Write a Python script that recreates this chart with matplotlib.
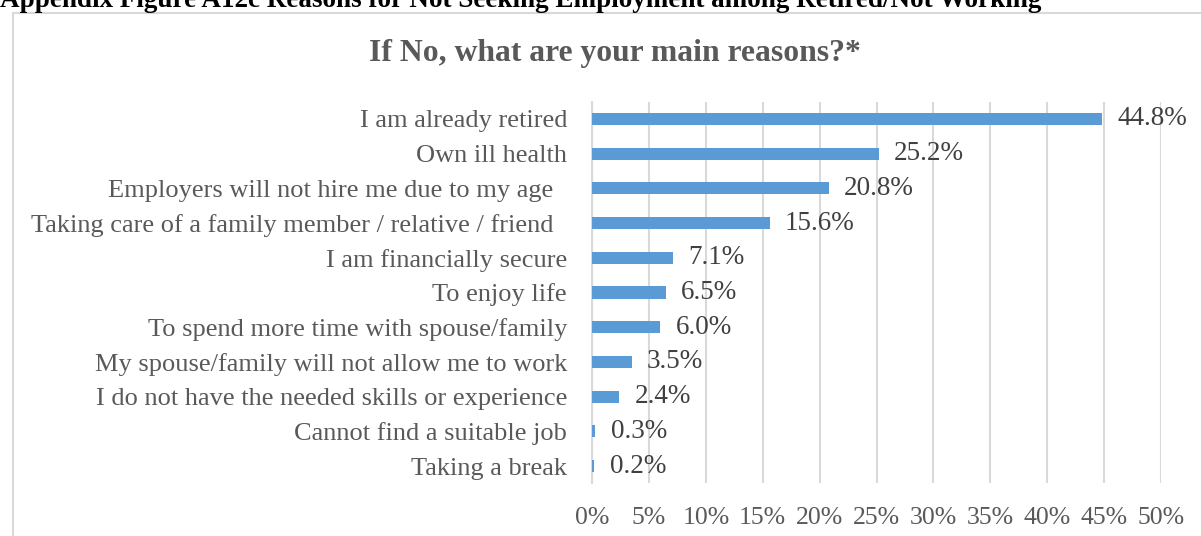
import matplotlib
matplotlib.use("Agg")
import matplotlib.pyplot as plt
from matplotlib.patches import Rectangle

plt.rcParams['font.family'] = ['Liberation Serif', 'DejaVu Serif']

reasons = [
    "I am already retired",
    "Own ill health",
    "Employers will not hire me due to my age  ",
    "Taking care of a family member / relative / friend  ",
    "I am financially secure",
    "To enjoy life",
    "To spend more time with spouse/family",
    "My spouse/family will not allow me to work",
    "I do not have the needed skills or experience",
    "Cannot find a suitable job",
    "Taking a break",
]
shares = [44.8, 25.2, 20.8, 15.6, 7.1, 6.5, 6.0, 3.5, 2.4, 0.3, 0.2]
xticks = [0, 5, 10, 15, 20, 25, 30, 35, 40, 45, 50]

W, H = 1201, 536
fig = plt.figure(figsize=(W / 100, H / 100), dpi=100)
fig.patch.set_facecolor("white")

# chart frame
fig.patches.append(Rectangle((13 / W, -0.05), 1.1, 1 - 13 / H + 0.05,
                             transform=fig.transFigure, fill=False,
                             edgecolor="#D9D9D9", linewidth=1.5))

# document heading, partly above the page
fig.text(0.0, 1 - 7 / H, "Appendix Figure A12c Reasons for Not Seeking Employment among Retired/Not Working",
         ha="left", va="baseline", fontsize=19.5, fontweight="bold", color="black")

fig.text(615 / W, 1 - 54 / H, "If No, what are your main reasons?*",
         ha="center", va="center", fontsize=22.8, fontweight="bold", color="#595959")

left, right = 592 / W, 1161 / W
top, bottom = 1 - 101.6 / H, 1 - 483.4 / H
ax = fig.add_axes([left, bottom, right - left, top - bottom])

y = list(range(len(reasons)))
ax.barh(y, shares, height=0.35, color="#5B9BD5", zorder=3)
ax.set_ylim(len(reasons) - 0.5, -0.5)
ax.set_xlim(0, 50)

for yi, v in zip(y, shares):
    ax.annotate(f"{v:.1f}%", xy=(v, yi), xytext=(11, 0), textcoords="offset points",
                ha="left", va="center", fontsize=19.5, color="#404040")

ax.set_yticks(y)
ax.set_yticklabels(reasons, fontsize=19, color="#595959")
ax.set_xticks(xticks)
ax.set_xticklabels([f"{t}%" for t in xticks], fontsize=18.5, color="#595959")
ax.tick_params(axis="both", length=0)
ax.tick_params(axis="y", pad=18)
ax.tick_params(axis="x", pad=17)

ax.grid(axis="x", color="#D9D9D9", linewidth=1.5, zorder=0)
for s in ["top", "right", "bottom"]:
    ax.spines[s].set_visible(False)
ax.spines["left"].set_color("#D9D9D9")
ax.spines["left"].set_linewidth(1.5)
ax.set_facecolor("none")

fig.savefig("out.png", dpi=100)
